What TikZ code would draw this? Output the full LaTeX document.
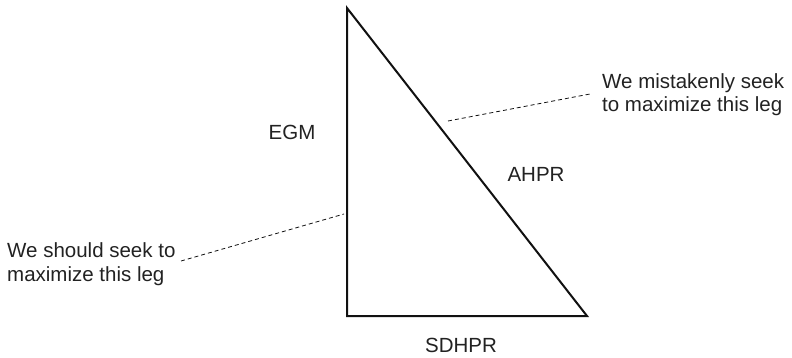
\documentclass[tikz,border=0pt]{standalone}
\usepackage{fontspec}
\setmainfont{Liberation Sans}
\usepackage{xcolor}
\usepackage{tikz}
\usetikzlibrary{positioning}
\definecolor{ink}{HTML}{111111}
\definecolor{txt}{HTML}{222222}
\tikzset{
  leg/.style={line width=2pt,color=ink,line join=miter},
  note/.style={dashed,dash pattern=on 4pt off 3pt,line width=0.8pt,color=ink},
  lbl/.style={font=\fontsize{20.5}{23.5}\selectfont,color=txt,inner sep=0pt,align=left}}
\begin{document}
\begin{tikzpicture}[x=1pt,y=-1pt]
\useasboundingbox (0,0) rectangle (792,358);
% triangle corners
\coordinate (top) at (347,8);
\coordinate (bl) at (347,316);
\coordinate (br) at (587,316);
\draw[leg] (top) -- (bl) -- (br) -- cycle;
% leg names
\node[lbl] (egm) at (292,132) {EGM};
\node[lbl] (ahpr) at (536,174) {AHPR};
\node[lbl] (sdhpr) at (461,345) {SDHPR};
% remarks
\node[lbl,anchor=north west] (wrong) at (602,73) {We mistakenly seek\\to maximize this leg};
\node[lbl,anchor=north west] (right) at (7,242.6) {We should seek to\\maximize this leg};
\coordinate (hypmark) at (448,121);
\coordinate (wrongend) at (590,94);
\coordinate (vertmark) at (344,214);
\coordinate (rightend) at (181,261);
\draw[note] (hypmark) -- (wrongend);
\draw[note] (rightend) -- (vertmark);
\end{tikzpicture}
\end{document}
